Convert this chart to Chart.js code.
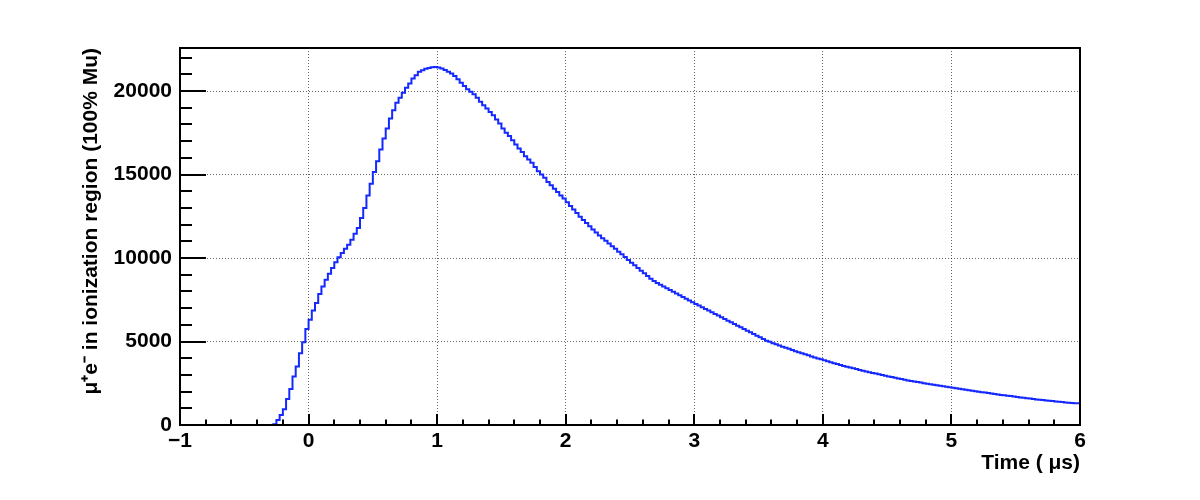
<!DOCTYPE html>
<html>
<head>
<meta charset="utf-8">
<script src="https://cdn.jsdelivr.net/npm/chart.js@4"></script>
<style>
  html, body { margin: 0; padding: 0; background: #fff; }
  #wrap { width: 1200px; height: 500px; position: relative; }
</style>
</head>
<body>
<div id="wrap"><canvas id="c" width="1200" height="500"></canvas></div>
<script>
// ---- data (histogram, bins of 0.025 us from -1 to 6) ----
const xMin = -1;
const xMax = 6;
const binWidth = 0.025;
const countsBefore = [
  0, 0, 0, 0, 0, 0, 0, 0, 0, 0,
  0, 0, 0, 0, 0, 0, 0, 0, 0, 0,
  0, 0, 0, 0, 0, 0, 0, 0, 0, 0
];
const countsRisePeak = [
  50, 300, 600, 950, 1550, 2150, 2900, 3500, 4300, 4950,
  5750, 6300, 6850, 7300, 7850, 8300, 8700, 9050, 9400, 9750,
  10050, 10300, 10550, 10800, 11100, 11450, 11800, 12400, 13000, 13750,
  14450, 15150, 15800, 16500, 17150, 17750, 18350, 18850, 19300, 19600,
  19900, 20200, 20450, 20750, 20950, 21150, 21250, 21330, 21380, 21420,
  21430, 21410, 21350, 21260, 21150, 21050, 20900, 20700, 20500, 20300,
  20100, 19950, 19800, 19600, 19350, 19150, 18950, 18750, 18550, 18300,
  18050, 17750, 17500, 17300, 17050, 16800, 16550, 16350, 16100, 15900,
  15700, 15450, 15200, 15000, 14800, 14550, 14350, 14150, 13950, 13750
];
const countsTail = [
  13560, 13340, 13120, 12900, 12690, 12470, 12280, 12090, 11900, 11710,
  11520, 11350, 11190, 11030, 10870, 10710, 10550, 10380, 10220, 10060,
  9880, 9720, 9560, 9400, 9240, 9080, 8920, 8760, 8630, 8510,
  8400, 8300, 8190, 8080, 7980, 7880, 7770, 7660, 7560, 7460,
  7350, 7250, 7150, 7050, 6950, 6850, 6750, 6650, 6550, 6450,
  6350, 6250, 6150, 6050, 5950, 5850, 5750, 5650, 5550, 5450,
  5350, 5250, 5150, 5050, 4980, 4900, 4830, 4760, 4690, 4620,
  4560, 4490, 4420, 4360, 4290, 4230, 4170, 4100, 4040, 3980,
  3930, 3870, 3820, 3760, 3700, 3650, 3600, 3540, 3490, 3440,
  3400, 3350, 3300, 3250, 3210, 3160, 3120, 3080, 3040, 2990,
  2950, 2910, 2870, 2830, 2790, 2750, 2710, 2670, 2630, 2600,
  2570, 2540, 2500, 2470, 2440, 2410, 2380, 2350, 2320, 2290,
  2260, 2230, 2200, 2170, 2140, 2110, 2080, 2050, 2020, 1990,
  1960, 1940, 1910, 1880, 1860, 1830, 1800, 1780, 1750, 1730,
  1700, 1680, 1650, 1630, 1600, 1580, 1560, 1530, 1510, 1490,
  1470, 1450, 1430, 1410, 1390, 1370, 1350, 1330, 1310, 1300
];
const yMax = 22575;
const xTickValues = [-1, 0, 1, 2, 3, 4, 5, 6];
const xTickLabels = ['\u22121', '0', '1', '2', '3', '4', '5', '6'];
const xMinorStep = 0.2;
const yTickValues = [0, 5000, 10000, 15000, 20000];
const yTickLabels = ['0', '5000', '10000', '15000', '20000'];
const yMinorStep = 1000;
const xTitle = 'Time ( \u03bcs)';
const yTitle = '\u03bc\u207ae\u207b in ionization region (100% Mu)';

// build histogram points (bin low edges + closing edge)
const counts = countsBefore.concat(countsRisePeak, countsTail);
const points = counts.map((v, i) => ({ x: xMin + i * binWidth, y: v }));
points.push({ x: xMax, y: counts[counts.length - 1] });

const FONT = '"Liberation Sans", Arial, Helvetica, sans-serif';

const frameTicks = {
  id: 'frameTicks',
  afterDatasetsDraw(chart) {
    const { ctx, chartArea: a, scales } = chart;
    const xs = scales.x, ys = scales.y;
    ctx.save();
    ctx.strokeStyle = '#000';
    ctx.lineWidth = 2;
    ctx.lineCap = 'butt';
    ctx.beginPath();
    const nx = Math.round((xMax - xMin) / xMinorStep);
    for (let i = 0; i <= nx; i++) {
      const v = xMin + i * xMinorStep;
      const major = Math.abs(v - Math.round(v)) < 1e-6;
      const px = Math.round(xs.getPixelForValue(v));
      const len = major ? 11 : 5.5;
      ctx.moveTo(px, a.bottom);
      ctx.lineTo(px, a.bottom - len);
    }
    const ny = Math.floor(yMax / yMinorStep);
    for (let i = 0; i <= ny; i++) {
      const v = i * yMinorStep;
      const major = v % 5000 === 0;
      const py = Math.round(ys.getPixelForValue(v));
      const len = major ? 26 : 12;
      ctx.moveTo(a.left, py);
      ctx.lineTo(a.left + len, py);
    }
    ctx.stroke();
    ctx.lineWidth = 2;
    ctx.strokeRect(Math.round(a.left), Math.round(a.top), Math.round(a.right - a.left), Math.round(a.bottom - a.top));
    ctx.restore();
  }
};

new Chart(document.getElementById('c'), {
  type: 'line',
  data: {
    datasets: [{
      data: points,
      stepped: 'after',
      borderColor: '#1428ff',
      borderWidth: 2,
      pointRadius: 0,
      fill: false,
      tension: 0
    }]
  },
  options: {
    responsive: false,
    animation: false,
    devicePixelRatio: 1,
    layout: { padding: { left: 0, right: 120, top: 48, bottom: 0 } },
    plugins: { legend: { display: false }, tooltip: { enabled: false } },
    scales: {
      x: {
        type: 'linear',
        min: xMin,
        max: xMax,
        afterBuildTicks: s => { s.ticks = xTickValues.map(v => ({ value: v })); },
        afterFit: s => { s.height = 75; },
        ticks: {
          autoSkip: false,
          maxRotation: 0,
          padding: 4,
          color: '#000',
          font: { family: FONT, size: 21, weight: 'bold' },
          callback: (v, i) => xTickLabels[i]
        },
        grid: {
          drawTicks: false,
          color: ctx => (ctx.tick && (ctx.tick.value === xMin || ctx.tick.value === xMax)) ? 'rgba(0,0,0,0)' : 'rgba(0,0,0,0.6)',
          lineWidth: 1
        },
        border: { display: false, dash: [1, 2] },
        title: {
          display: true,
          text: xTitle,
          align: 'end',
          color: '#000',
          font: { family: FONT, size: 21, weight: 'bold' },
          padding: { top: 0, bottom: 24 }
        }
      },
      y: {
        type: 'linear',
        min: 0,
        max: yMax,
        afterBuildTicks: s => { s.ticks = yTickValues.map(v => ({ value: v })); },
        afterFit: s => { s.width = 180; },
        ticks: {
          padding: 8,
          color: '#000',
          font: { family: FONT, size: 21, weight: 'bold' },
          callback: (v, i) => yTickLabels[i]
        },
        grid: {
          drawTicks: false,
          color: ctx => (ctx.tick && ctx.tick.value === 0) ? 'rgba(0,0,0,0)' : 'rgba(0,0,0,0.6)',
          lineWidth: 1
        },
        border: { display: false, dash: [1, 2] },
        title: {
          display: true,
          text: yTitle,
          align: 'end',
          color: '#000',
          font: { family: FONT, size: 21, weight: 'bold' },
          padding: { top: 79, bottom: 0 }
        }
      }
    }
  },
  plugins: [frameTicks]
});
</script>
</body>
</html>
